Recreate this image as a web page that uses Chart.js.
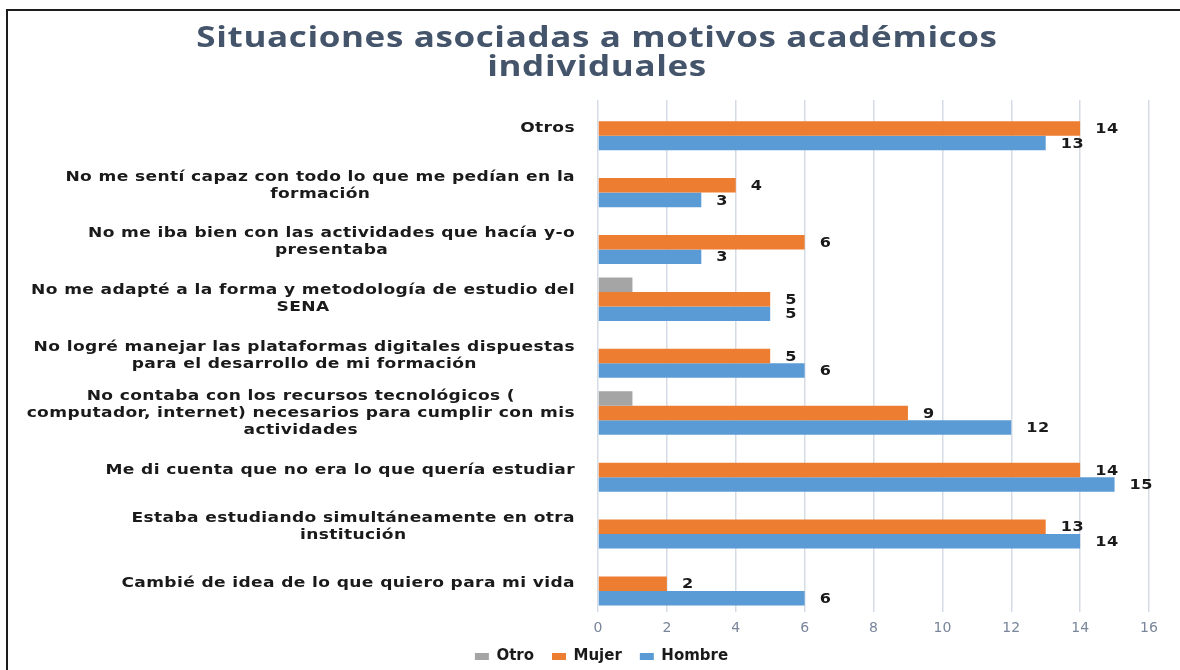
<!DOCTYPE html>
<html><head><meta charset="utf-8">
<script src="https://cdn.jsdelivr.net/npm/chart.js@4"></script>
<style>html,body{margin:0;padding:0;background:#fff;}#wrap{width:1180px;height:670px;position:relative;}</style>
</head><body><div id="wrap"><canvas id="c" width="1180" height="670"></canvas></div>
<script>
const titleLines = ['Situaciones asociadas a motivos académicos', 'individuales'];
const categories = [
  ['Otros'],
  ['No me sentí capaz con todo lo que me pedían en la', 'formación'],
  ['No me iba bien con las actividades que hacía y-o', 'presentaba'],
  ['No me adapté a la forma y metodología de estudio del', 'SENA'],
  ['No logré manejar las plataformas digitales dispuestas', 'para el desarrollo de mi formación'],
  ['No contaba con los recursos tecnológicos (', 'computador, internet) necesarios para cumplir con mis', 'actividades'],
  ['Me di cuenta que no era lo que quería estudiar'],
  ['Estaba estudiando simultáneamente en otra', 'institución'],
  ['Cambié de idea de lo que quiero para mi vida']
];
const seriesNames = ['Otro', 'Mujer', 'Hombre'];
const otroValues   = [0, 0, 0, 1, 0, 1, 0, 0, 0];
const mujerValues  = [14, 4, 6, 5, 5, 9, 14, 13, 2];
const hombreValues = [13, 3, 3, 5, 6, 12, 15, 14, 6];
const xTickValues  = [0, 2, 4, 6, 8, 10, 12, 14, 16];
const labeledSeries = ['Mujer', 'Hombre'];

function stretchedText(ctx, text, x, y, align, sx, ls) {
  ctx.save();
  ctx.letterSpacing = ls + 'px';
  const w = ctx.measureText(text).width;
  ctx.translate(x, y);
  ctx.scale(sx, 1);
  ctx.textAlign = 'left';
  let start = 0;
  if (align === 'center') start = -w / 2;
  else if (align === 'right') start = -w;
  ctx.fillText(text, start, 0);
  ctx.restore();
}
function stretchedWidth(ctx, text, sx, ls) {
  ctx.save();
  ctx.letterSpacing = ls + 'px';
  const w = ctx.measureText(text).width * sx;
  ctx.restore();
  return w;
}

const decorPlugin = {
  id: 'decor',
  afterLayout(chart) {
    // lift the legend a little closer to the axis labels
    if (chart.legend) { chart.legend.top -= 6; chart.legend.bottom -= 6; }
  },
  beforeDraw(chart) {
    const ctx = chart.ctx;
    ctx.save();
    ctx.fillStyle = '#fff';
    ctx.fillRect(0, 0, chart.width, chart.height);
    ctx.fillStyle = '#1c1c1c';
    ctx.fillRect(6, 9, chart.width - 6, 2);
    ctx.fillRect(6, 9, 2, chart.height - 9);
    ctx.restore();
  },
  afterDraw(chart) {
    const ctx = chart.ctx;
    // title
    ctx.save();
    ctx.font = 'bold 28px "Open Sans"';
    ctx.fillStyle = '#44546A';
    ctx.textBaseline = 'middle';
    const cx = chart.width / 2 + 7;
    titleLines.forEach((t, i) => stretchedText(ctx, t, cx, 39 + i * 29.5, 'center', 1.25, 0.5));
    ctx.restore();

    // category labels (centered block, right aligned to axis)
    const ys = chart.scales.y;
    const right = chart.chartArea.left - 23;
    ctx.save();
    ctx.font = 'bold 14px "DejaVu Sans"';
    ctx.fillStyle = '#1a1a1a';
    ctx.textBaseline = 'middle';
    const sx = 1.22, ls = 0.3;
    categories.forEach((lines, i) => {
      const yc = ys.getPixelForTick(i);
      const widths = lines.map(l => stretchedWidth(ctx, l, sx, ls));
      const maxW = Math.max(...widths);
      const center = right - maxW / 2;
      const lh = 17;
      lines.forEach((l, j) => {
        const y = yc - (lines.length - 1) * lh / 2 + j * lh;
        stretchedText(ctx, l, center, y, 'center', sx, ls);
      });
    });
    ctx.restore();

    // value labels
    ctx.save();
    ctx.font = 'bold 14px "DejaVu Sans"';
    ctx.fillStyle = '#1a1a1a';
    ctx.textBaseline = 'middle';
    chart.data.datasets.forEach((ds, di) => {
      if (!labeledSeries.includes(ds.label)) return;
      const meta = chart.getDatasetMeta(di);
      if (meta.hidden) return;
      meta.data.forEach((bar, i) => {
        const v = ds.data[i];
        if (!v) return;
        stretchedText(ctx, String(v), bar.x + 15, bar.y + 1, 'left', 1.15, 0.5);
      });
    });
    ctx.restore();
  }
};

new Chart(document.getElementById('c'), {
  type: 'bar',
  data: {
    labels: categories,
    datasets: [
      { label: seriesNames[0], data: otroValues, backgroundColor: '#A5A5A5' },
      { label: seriesNames[1], data: mujerValues, backgroundColor: '#ED7D31' },
      { label: seriesNames[2], data: hombreValues, backgroundColor: '#5B9BD5' }
    ]
  },
  options: {
    indexAxis: 'y',
    responsive: false,
    animation: false,
    devicePixelRatio: 1,
    datasets: { bar: { categoryPercentage: 0.765, barPercentage: 1.0, borderWidth: 0 } },
    layout: { padding: { top: 100, left: 54, right: 31, bottom: -10 } },
    scales: {
      x: {
        min: 0, max: 16,
        afterBuildTicks(scale) { scale.ticks = xTickValues.map(v => ({ value: v })); },
        grid: { color: '#d6dce5', lineWidth: 1.5, tickLength: 8, tickColor: 'rgba(0,0,0,0)' },
        border: { display: false },
        ticks: { color: '#7a869a', font: { family: 'DejaVu Sans', size: 14 }, padding: 0 }
      },
      y: {
        grid: { display: false },
        border: { display: false },
        ticks: { display: false },
        afterFit(scale) { scale.width = 544; }
      }
    },
    plugins: {
      title: { display: false, text: titleLines },
      tooltip: { enabled: false },
      legend: {
        position: 'bottom',
        labels: {
          boxWidth: 14, boxHeight: 7, padding: 18,
          color: '#1a1a1a',
          font: { family: 'DejaVu Sans', size: 15, weight: 'bold' }
        }
      }
    }
  },
  plugins: [decorPlugin]
});
</script></body></html>
